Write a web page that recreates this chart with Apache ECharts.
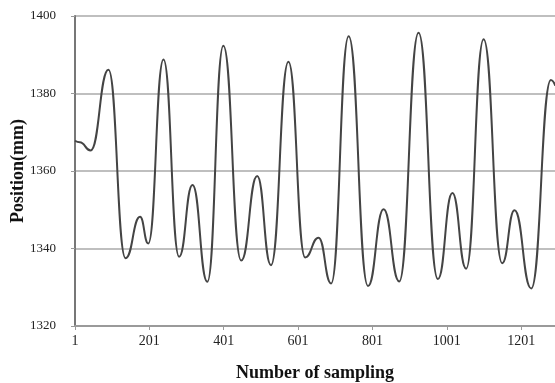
<!DOCTYPE html>
<html>
<head>
<meta charset="utf-8">
<script src="https://cdn.jsdelivr.net/npm/echarts@6/dist/echarts.min.js"></script>
<style>
	html, body { margin: 0; padding: 0; background: #fff; }
	#chart { width: 555px; height: 383px; }
</style>
</head>
<body>
<div id="chart"></div>
<script>
// sample index at each turning point of the trace
const samples = [1, 14, 43, 91, 137, 176, 198, 239, 281, 317, 357, 400, 448, 491, 528, 575, 620, 656, 690, 737, 789, 831, 873, 925, 977, 1016, 1053, 1100, 1150, 1183, 1228, 1281, 1293];
// position (mm) at those samples
const positions = [1367.8, 1367.4, 1365.3, 1386.1, 1337.5, 1348.2, 1341.3, 1388.8, 1337.9, 1356.4, 1331.4, 1392.3, 1336.9, 1358.7, 1335.7, 1388.2, 1337.7, 1342.8, 1331.0, 1394.8, 1330.3, 1350.1, 1331.5, 1395.7, 1332.1, 1354.3, 1334.8, 1394.0, 1336.2, 1349.9, 1329.7, 1383.5, 1382.0];

const serif = '"Liberation Serif", "DejaVu Serif", serif';

const chart = echarts.init(document.getElementById('chart'));

chart.setOption({
	animation: false,
	backgroundColor: '#fff',
	grid: {
		left: 75,
		right: 0,
		top: 16,
		bottom: 57,
		containLabel: false,
		outerBoundsMode: 'none',
	},
	xAxis: {
		type: 'value',
		min: 1,
		max: 1292,
		interval: 200,
		name: 'Number of sampling',
		nameLocation: 'middle',
		nameGap: 38,
		nameMoveOverlap: false,
		nameTextStyle: {
			color: '#111',
			fontFamily: serif,
			fontWeight: 'bold',
			fontSize: 18,
		},
		axisLine: { show: true, lineStyle: { color: '#9a9a9a', width: 2 } },
		axisTick: { show: true, length: 4, inside: false, lineStyle: { color: '#9a9a9a' } },
		axisLabel: {
			color: '#222',
			fontFamily: serif,
			fontSize: 14,
			margin: 8,
			showMaxLabel: false,
			formatter: (v) => String(v),
		},
		splitLine: { show: false },
	},
	yAxis: {
		type: 'value',
		min: 1320,
		max: 1400,
		interval: 20,
		name: 'Position(mm)',
		nameLocation: 'middle',
		nameGap: 48,
		nameMoveOverlap: false,
		nameTextStyle: {
			color: '#111',
			fontFamily: serif,
			fontWeight: 'bold',
			fontSize: 18,
		},
		axisLine: { show: true, lineStyle: { color: '#777', width: 2 } },
		axisTick: { show: true, length: 4, lineStyle: { color: '#999' } },
		axisLabel: {
			color: '#222',
			fontFamily: serif,
			fontSize: 13,
			margin: 19,
			formatter: (v) => String(v),
		},
		splitLine: { show: true, lineStyle: { color: '#aaa', width: 1.5 } },
	},
	series: [
		{
			type: 'line',
			data: samples.map((s, i) => [s, positions[i]]),
			smooth: 0.5,
			smoothMonotone: 'x',
			showSymbol: false,
			lineStyle: { color: '#444', width: 2 },
		},
	],
});
</script>
</body>
</html>
